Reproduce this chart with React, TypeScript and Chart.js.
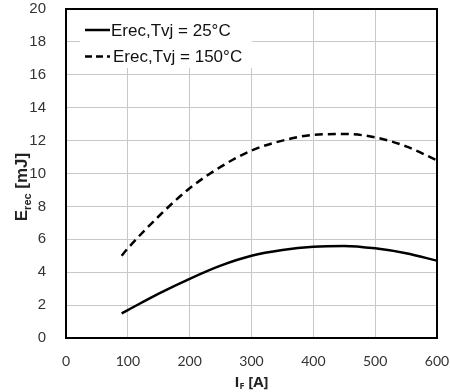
import { useEffect, useRef } from "react";
import { Chart, registerables } from "chart.js";

Chart.register(...registerables);

// ---- data ----
const currentA = [90, 100, 150, 200, 250, 300, 350, 400, 450, 500, 550, 600];
const erec25 = [1.5, 1.7, 2.7, 3.6, 4.4, 5.0, 5.35, 5.55, 5.6, 5.45, 5.15, 4.7];
const erec150 = [5.0, 5.45, 7.4, 9.1, 10.4, 11.4, 12.0, 12.35, 12.4, 12.2, 11.65, 10.8];
const xTicks = [0, 100, 200, 300, 400, 500, 600];
const yTicks = [0, 2, 4, 6, 8, 10, 12, 14, 16, 18, 20];
const seriesLabels = ["Erec,Tvj = 25°C", "Erec,Tvj = 150°C"];
const xTitleParts = ["I", "F", " [A]"];
const yTitleParts = ["E", "rec", " [mJ]"];

const ARIAL = "'Liberation Sans', Arial, sans-serif";
const CALIBRI = "Lato, 'Open Sans', sans-serif";
const CALIBRI_BOLD = "'Open Sans', Lato, sans-serif";

function drawSubTitle(
  ctx: CanvasRenderingContext2D,
  parts: string[],
  cx: number,
  baseline: number,
  font: string,
  subFont: string,
  subShift: number
) {
  ctx.font = font;
  const w1 = ctx.measureText(parts[0]).width;
  const w3 = ctx.measureText(parts[2]).width;
  ctx.font = subFont;
  const w2 = ctx.measureText(parts[1]).width;
  let x = cx - (w1 + w2 + w3) / 2;
  ctx.textAlign = "left";
  ctx.textBaseline = "alphabetic";
  ctx.font = font;
  ctx.fillText(parts[0], x, baseline);
  x += w1;
  ctx.font = subFont;
  ctx.fillText(parts[1], x, baseline + subShift);
  x += w2;
  ctx.font = font;
  ctx.fillText(parts[2], x, baseline);
}

const decorPlugin = {
  id: "decor",
  beforeDatasetsDraw(chart: any) {
    const { ctx, chartArea: a } = chart;
    ctx.save();
    ctx.fillStyle = "#ffffff";
    ctx.fillRect(a.left + 14, a.top + 1, 172, 58);
    ctx.restore();
  },
  afterDatasetsDraw(chart: any) {
    const { ctx, chartArea: a } = chart;
    ctx.save();
    ctx.strokeStyle = "#000";
    ctx.lineWidth = 2;
    ctx.strokeRect(a.left, a.top, a.right - a.left, a.bottom - a.top);
    ctx.restore();
  },
  afterDraw(chart: any) {
    const { ctx, chartArea: a } = chart;
    ctx.save();
    // legend
    const rows = [a.top + 21, a.top + 47.5];
    const dashes = [[], [7, 4]];
    rows.forEach((y, i) => {
      ctx.strokeStyle = "#000";
      ctx.lineWidth = 2.5;
      ctx.setLineDash(dashes[i]);
      ctx.beginPath();
      ctx.moveTo(a.left + 19, y);
      ctx.lineTo(a.left + 44, y);
      ctx.stroke();
      ctx.setLineDash([]);
      ctx.fillStyle = "#111";
      ctx.font = `17px ${ARIAL}`;
      ctx.textAlign = "left";
      ctx.textBaseline = "middle";
      ctx.fillText(seriesLabels[i], a.left + 45 + i * 2, y + 1);
    });
    // x title
    ctx.fillStyle = "#222";
    drawSubTitle(ctx, xTitleParts, (a.left + a.right) / 2, 387, `bold 15px ${CALIBRI_BOLD}`, `bold 9px ${CALIBRI_BOLD}`, 2);
    // y title
    ctx.translate(0, 187);
    ctx.rotate(-Math.PI / 2);
    drawSubTitle(ctx, yTitleParts, 0, 27, `bold 17px ${ARIAL}`, `bold 11px ${ARIAL}`, 4);
    ctx.restore();
  },
};

export default function App() {
  const ref = useRef<HTMLCanvasElement>(null);
  useEffect(() => {
    const chart = new Chart(ref.current!, {
      type: "line",
      data: {
        datasets: [
          {
            label: seriesLabels[0],
            data: currentA.map((x, i) => ({ x, y: erec25[i] })),
            borderColor: "#000",
            borderWidth: 2.5,
            pointRadius: 0,
            tension: 0.4,
            cubicInterpolationMode: "monotone",
            fill: false,
          },
          {
            label: seriesLabels[1],
            data: currentA.map((x, i) => ({ x, y: erec150[i] })),
            borderColor: "#000",
            borderWidth: 2.5,
            borderDash: [8, 5],
            pointRadius: 0,
            tension: 0.4,
            cubicInterpolationMode: "monotone",
            fill: false,
          },
        ],
      },
      options: {
        responsive: false,
        animation: false,
        devicePixelRatio: 1,
        layout: { padding: { left: 0, top: 9, right: 13, bottom: 0 } },
        plugins: { legend: { display: false }, tooltip: { enabled: false } },
        scales: {
          x: {
            type: "linear",
            min: xTicks[0],
            max: xTicks[xTicks.length - 1],
            afterBuildTicks: (s: any) => {
              s.ticks = xTicks.map((v) => ({ value: v }));
            },
            afterFit: (s: any) => {
              s.height = 54;
              s.paddingLeft = 0;
              s.paddingRight = 0;
            },
            grid: { color: "#c8c8c8", lineWidth: 1, drawTicks: false },
            border: { display: true, color: "#000", width: 2 },
            ticks: { padding: 15, color: "#333", font: { family: CALIBRI, size: 14 } },
          },
          y: {
            type: "linear",
            min: yTicks[0],
            max: yTicks[yTicks.length - 1],
            afterBuildTicks: (s: any) => {
              s.ticks = yTicks.map((v) => ({ value: v }));
            },
            afterFit: (s: any) => {
              s.width = 66;
              s.paddingTop = 0;
              s.paddingBottom = 0;
            },
            grid: { color: "#c8c8c8", lineWidth: 1, drawTicks: false },
            border: { display: true, color: "#000", width: 2 },
            ticks: { padding: 20, color: "#333", font: { family: ARIAL, size: 15 } },
          },
        },
      },
      plugins: [decorPlugin],
    } as any);
    return () => chart.destroy();
  }, []);
  return (
    <div style={{ position: "fixed", left: 0, top: 0, width: 450, height: 392, background: "#fff" }}>
      <canvas ref={ref} width={450} height={392} style={{ display: "block", width: 450, height: 392 }} />
    </div>
  );
}
